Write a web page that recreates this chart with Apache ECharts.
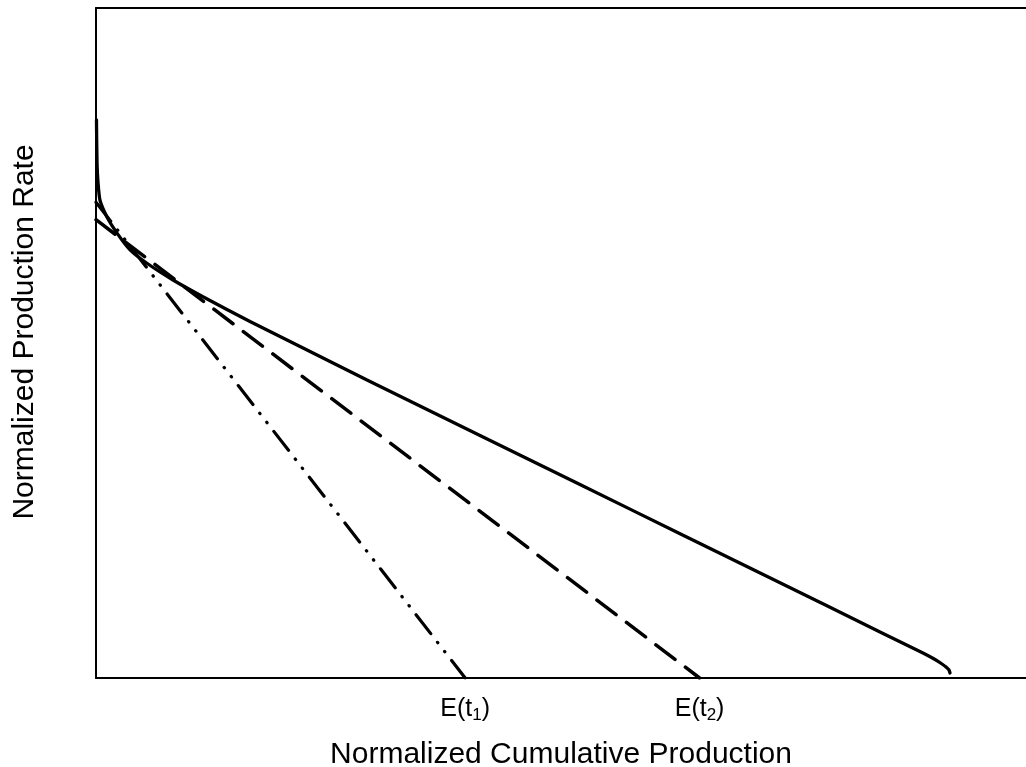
<!DOCTYPE html>
<html>
<head>
<meta charset="utf-8">
<script src="https://cdn.jsdelivr.net/npm/echarts@6/dist/echarts.min.js"></script>
<style>
  html, body { margin: 0; padding: 0; background: #fff; }
  #chart { width: 1026px; height: 767px; }
</style>
</head>
<body>
<div id="chart"></div>
<script>
// normalized cumulative production (x) / normalized rate (y)
const curveX = [0.05, 0.11, 0.22, 0.43, 1.18, 2.26, 3.66, 5.48, 8.28, 11.5, 16.56, 21.94, 29.14, 41.29, 52.04, 62.8, 73.55, 84.3, 88.92, 90.22, 90.97, 91.4, 91.72, 91.83];
const curveY = [83.3, 76.9, 73.9, 71.3, 68.8, 66.4, 63.9, 61.9, 59.4, 56.9, 53.21, 49.48, 44.48, 36.19, 28.87, 21.54, 14.21, 6.88, 3.73, 2.76, 2.09, 1.64, 1.19, 0.75];

const dashX = [0, 64.9];
const dashY = [68.4, 0];

const dashDotX = [0, 39.7];
const dashDotY = [71.0, 0];

const tickValues = [39.7, 64.9];
const tickSubs = ['1', '2'];

const zip = (xs, ys) => xs.map((x, i) => [x, ys[i]]);

const chart = echarts.init(document.getElementById('chart'));

const blackLine = { show: true, lineStyle: { color: '#000', width: 2 } };

const option = {
  animation: false,
  textStyle: { fontFamily: 'Liberation Sans, Arial, sans-serif', color: '#000' },
  grid: {
    left: 96,
    right: 0,
    top: 8,
    bottom: 89,
    outerBoundsMode: 'none',
  },
  xAxis: [
    {
      type: 'value',
      min: 0,
      max: 100,
      position: 'bottom',
      name: 'Normalized Cumulative Production',
      nameLocation: 'middle',
      nameGap: 62,
      nameTextStyle: { fontSize: 30, color: '#000' },
      axisLine: blackLine,
      axisTick: { show: false },
      splitLine: { show: false },
      axisLabel: {
        customValues: tickValues,
        margin: 17,
        color: '#000',
        fontSize: 25,
        formatter: (val) => {
          const i = tickValues.indexOf(val);
          return i < 0 ? '' : 'E(t{sub|' + tickSubs[i] + '})';
        },
        rich: {
          sub: { fontSize: 17, verticalAlign: 'bottom', padding: [12, 0, 0, 0], color: '#000' },
        },
      },
    },
    {
      // top frame line only
      type: 'value',
      min: 0,
      max: 100,
      position: 'top',
      axisLine: blackLine,
      axisTick: { show: false },
      axisLabel: { show: false },
      splitLine: { show: false },
    },
  ],
  yAxis: {
    type: 'value',
    min: 0,
    max: 100,
    name: 'Normalized Production Rate',
    nameLocation: 'middle',
    nameGap: 56,
    nameTextStyle: { fontSize: 30, color: '#000', padding: [0, 0, 0, 22] },
    axisLine: blackLine,
    axisTick: { show: false },
    axisLabel: { show: false },
    splitLine: { show: false },
  },
  series: [
    {
      type: 'line',
      data: zip(curveX, curveY),
      showSymbol: false,
      smooth: 0.2,
      lineStyle: { color: '#000', width: 3.3, cap: 'round' },
    },
    {
      type: 'line',
      data: zip(dashX, dashY),
      showSymbol: false,
      lineStyle: { color: '#000', width: 3.5, type: [24, 13], cap: 'round' },
    },
    {
      type: 'line',
      data: zip(dashDotX, dashDotY),
      showSymbol: false,
      lineStyle: { color: '#000', width: 3.2, type: [24, 11, 0.5, 11, 0.5, 11], cap: 'round' },
    },
  ],
};

chart.setOption(option);
</script>
</body>
</html>
